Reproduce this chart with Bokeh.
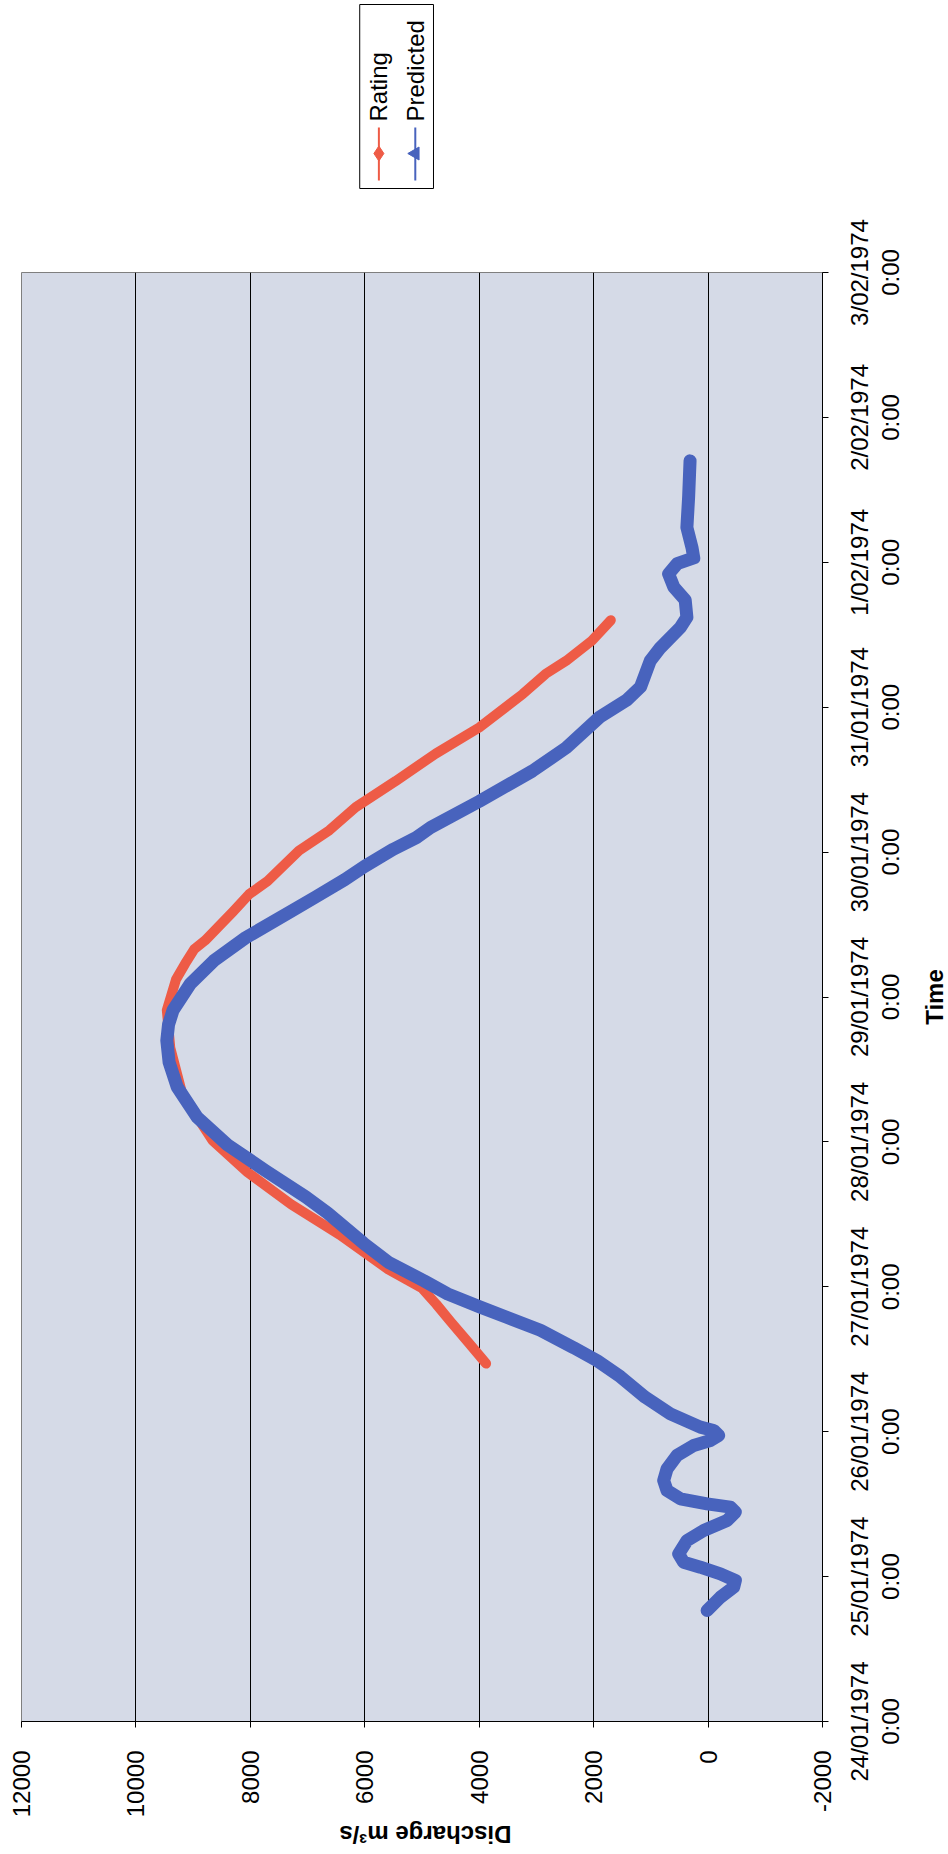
import math
import pandas as pd
from bokeh.plotting import figure
from bokeh.layouts import row, column
from bokeh.models import Range1d, FixedTicker
from bokeh.core.properties import value
from bokeh.embed import file_html
from bokeh.resources import INLINE

t0 = pd.Timestamp("1974-01-24 00:00")

predicted_time = [
    "1974-01-24 18:23", "1974-01-24 20:35", "1974-01-24 22:15", "1974-01-24 23:21",
    "1974-01-25 00:27", "1974-01-25 01:34", "1974-01-25 02:23", "1974-01-25 03:46",
    "1974-01-25 05:59", "1974-01-25 07:38", "1974-01-25 09:17", "1974-01-25 10:41",
    "1974-01-25 11:30", "1974-01-25 12:03", "1974-01-25 12:53", "1974-01-25 14:15",
    "1974-01-25 15:55", "1974-01-25 17:51", "1974-01-25 20:04", "1974-01-25 21:43",
    "1974-01-25 22:32", "1974-01-25 23:23", "1974-01-26 00:12", "1974-01-26 00:45",
    "1974-01-26 02:57", "1974-01-26 05:43", "1974-01-26 09:07", "1974-01-26 11:46",
    "1974-01-26 13:55", "1974-01-26 16:48", "1974-01-26 18:58", "1974-01-26 20:38",
    "1974-01-26 22:48", "1974-01-27 00:58", "1974-01-27 04:05", "1974-01-27 07:12",
    "1974-01-27 12:14", "1974-01-27 14:53", "1974-01-27 19:12", "1974-01-27 23:31",
    "1974-01-28 04:05", "1974-01-28 09:07", "1974-01-28 13:12", "1974-01-28 16:48",
    "1974-01-28 19:26", "1974-01-28 21:50", "1974-01-29 02:10", "1974-01-29 06:00",
    "1974-01-29 09:50", "1974-01-29 14:10", "1974-01-29 16:34", "1974-01-29 19:26",
    "1974-01-29 21:36", "1974-01-30 00:29", "1974-01-30 02:24", "1974-01-30 04:05",
    "1974-01-30 08:24", "1974-01-30 13:26", "1974-01-30 17:17", "1974-01-30 22:19",
    "1974-01-31 01:12", "1974-01-31 03:22", "1974-01-31 07:41", "1974-01-31 09:50",
    "1974-01-31 13:12", "1974-01-31 14:53", "1974-01-31 17:46", "1974-01-31 19:55",
    "1974-01-31 22:05", "1974-01-31 23:46", "1974-02-01 00:43", "1974-02-01 02:24",
    "1974-02-01 05:46", "1974-02-01 10:48", "1974-02-01 16:48",
]
predicted_q = [
    17, -215, -448, -477,
    -215, 135, 427, 514,
    367, 77, -332, -477,
    -390, 17, 484, 717,
    776, 717, 542, 252,
    -40, -185, -98, 135,
    659, 1100, 1533, 1940,
    2350, 2930, 3520, 3980,
    4550, 4960, 5590, 6020,
    6650, 7030, 7730, 8400,
    8930, 9280, 9420, 9460,
    9430, 9350, 9050, 8640,
    8080, 7290, 6860, 6350,
    6010, 5500, 5100, 4850,
    4000, 3070, 2480, 1900,
    1420, 1180, 1010, 835,
    485, 370, 400, 600,
    690, 540, 250, 280,
    370, 340, 315,
]

rating_time = [
    "1974-01-26 11:17", "1974-01-26 14:53", "1974-01-26 18:14", "1974-01-26 21:07",
    "1974-01-26 23:46", "1974-01-27 02:53", "1974-01-27 08:38", "1974-01-27 13:41",
    "1974-01-27 18:58", "1974-01-28 00:14", "1974-01-28 07:55", "1974-01-28 15:36",
    "1974-01-28 21:50", "1974-01-29 02:53", "1974-01-29 05:31", "1974-01-29 07:55",
    "1974-01-29 09:22", "1974-01-29 14:10", "1974-01-29 17:02", "1974-01-29 19:12",
    "1974-01-30 00:14", "1974-01-30 03:36", "1974-01-30 07:26", "1974-01-30 11:46",
    "1974-01-30 16:19", "1974-01-30 20:38", "1974-01-31 02:10", "1974-01-31 05:31",
    "1974-01-31 07:41", "1974-01-31 11:02", "1974-01-31 14:24",
]
rating_q = [
    3880, 4200, 4500, 4750,
    5000, 5590, 6440, 7290,
    8050, 8660, 9190, 9400,
    9460, 9300, 9140, 8980,
    8790, 8300, 8020, 7700,
    7150, 6620, 6160, 5460,
    4760, 4000, 3240, 2840,
    2480, 2030, 1700,
]

time_tick_labels = [
    "24/01/1974 0:00", "25/01/1974 0:00", "26/01/1974 0:00", "27/01/1974 0:00",
    "28/01/1974 0:00", "29/01/1974 0:00", "30/01/1974 0:00", "31/01/1974 0:00",
    "1/02/1974 0:00", "2/02/1974 0:00", "3/02/1974 0:00",
]
discharge_ticks = [-2000, 0, 2000, 4000, 6000, 8000, 10000, 12000]

series_names = ["Rating", "Predicted"]
series_colors = ["#ee5b46", "#4863bd"]
x_title = "Discharge m\u00b3/s"
y_title = "Time"


def to_days(ts):
    return [(pd.Timestamp(t) - t0) / pd.Timedelta(days=1) for t in ts]


FONT = "Liberation Sans"

# ---- page geometry (pixels) ----
PAGE_W, PAGE_H = 948, 1854
FRAME_L, FRAME_T, FRAME_W, FRAME_H = 21, 272, 801, 1449
PAD_R = 14
PAD_T = 2
BOTTOM_AXIS_H = 96
N_DAYS = len(time_tick_labels) - 1
PPD = FRAME_H / N_DAYS
FRAME_R = FRAME_L + FRAME_W

main_w = FRAME_R + PAD_R
right_w = PAGE_W - main_w
top_h = FRAME_T - PAD_T
main_h = PAD_T + FRAME_H + BOTTOM_AXIS_H
bottom_h = PAGE_H - top_h - main_h


def blank_fig(w, h, xr, yr):
    f = figure(width=w, height=h, x_range=xr, y_range=yr,
               x_axis_location=None, y_axis_location=None,
               output_backend="svg", toolbar_location=None, min_border=0)
    f.grid.visible = False
    f.outline_line_color = None
    f.background_fill_color = "white"
    f.border_fill_color = "white"
    return f


# ---- main plot ----
p = figure(
    frame_width=FRAME_W, frame_height=FRAME_H,
    x_range=Range1d(12000, -2000), y_range=Range1d(0, N_DAYS),
    y_axis_location="right",
    output_backend="svg", toolbar_location=None,
    min_border_left=FRAME_L, min_border_right=PAD_R,
    min_border_top=PAD_T, min_border_bottom=BOTTOM_AXIS_H,
)
p.background_fill_color = "#d5dae7"
p.border_fill_color = "white"
p.outline_line_color = "#7f7f7f"
p.outline_line_width = 1

xa = p.xaxis[0]
xa.ticker = FixedTicker(ticks=discharge_ticks)
xa.major_label_overrides = {v: str(v) for v in discharge_ticks}
xa.major_label_orientation = math.pi / 2
xa.major_label_text_font = FONT
xa.major_label_text_font_size = "24px"
xa.major_label_text_color = "black"
xa.axis_line_color = "black"
xa.major_tick_line_color = "black"
xa.major_tick_out = 6
xa.major_tick_in = 0
xa.minor_tick_line_color = None
xa.major_label_standoff = 23

ya = p.yaxis[0]
ya.ticker = FixedTicker(ticks=list(range(N_DAYS + 1)))
ya.major_label_overrides = {i: "" for i in range(N_DAYS + 1)}
ya.major_label_text_font_size = "0px"
ya.major_label_standoff = 0
ya.axis_line_color = "black"
ya.major_tick_line_color = "black"
ya.major_tick_out = 6
ya.major_tick_in = 0
ya.minor_tick_line_color = None

p.xgrid.grid_line_color = "black"
p.xgrid.grid_line_width = 1
p.ygrid.grid_line_color = None

p.line(x=rating_q, y=to_days(rating_time), line_width=10, color=series_colors[0],
       line_join="round", line_cap="round")
p.line(x=predicted_q, y=to_days(predicted_time), line_width=13, color=series_colors[1],
       line_join="round", line_cap="round")

# ---- right strip: rotated time tick labels and title, on the same day scale ----
rf = blank_fig(right_w, PAGE_H, Range1d(main_w, PAGE_W),
               Range1d(-(PAGE_H - FRAME_T - FRAME_H) / PPD, N_DAYS + FRAME_T / PPD))
tick_days = list(range(N_DAYS + 1))
date_part = [s.split(" ")[0] for s in time_tick_labels]
hour_part = [s.split(" ")[1] for s in time_tick_labels]
rf.text(x=[FRAME_R + 37] * len(tick_days), y=tick_days, text=date_part,
        angle=math.pi / 2, text_align="center", text_baseline="middle",
        text_font=value(FONT), text_font_size="24px", text_color="black")
rf.text(x=[FRAME_R + 68] * len(tick_days), y=tick_days, text=hour_part,
        angle=math.pi / 2, text_align="center", text_baseline="middle",
        text_font=value(FONT), text_font_size="24px", text_color="black")
rf.text(x=[PAGE_W - 14], y=[N_DAYS / 2], text=[y_title],
        angle=math.pi / 2, text_align="center", text_baseline="middle",
        text_font=value(FONT), text_font_size="24px", text_font_style="bold",
        text_color="black")

# ---- top strip: rotated legend ----
tf = blank_fig(main_w, top_h, Range1d(0, main_w), Range1d(0, top_h))


def TY(py):
    return top_h - py


tf.quad(left=[353], right=[430], top=[TY(4)], bottom=[TY(188)],
        fill_color="white", line_color="black", line_width=1)
leg_x = [373, 411]
for i, (name, col) in enumerate(zip(series_names, series_colors)):
    tf.line(x=[leg_x[i], leg_x[i]], y=[TY(180), TY(127)], color=col, line_width=2)
    tf.text(x=[leg_x[i]], y=[TY(121)], text=[name], angle=math.pi / 2,
            text_align="left", text_baseline="middle",
            text_font=value(FONT), text_font_size="24px", text_color="black")
tf.scatter(x=[leg_x[0]], y=[TY(153)], marker="diamond", size=15,
           fill_color=series_colors[0], line_color=series_colors[0])
tf.scatter(x=[leg_x[1]], y=[TY(153)], marker="triangle", size=13, angle=math.pi / 2,
           fill_color=series_colors[1], line_color=series_colors[1])

# ---- bottom strip: upside-down x title ----
bf = blank_fig(main_w, bottom_h, Range1d(0, main_w), Range1d(0, bottom_h))
bf.text(x=[FRAME_L + FRAME_W / 2], y=[bottom_h - 14], text=[x_title], angle=math.pi,
        text_align="center", text_baseline="middle",
        text_font=value(FONT), text_font_size="24px", text_font_style="bold",
        text_color="black")

layout = row(column(tf, p, bf), rf)
open("out.html", "w").write(file_html(layout, INLINE))
